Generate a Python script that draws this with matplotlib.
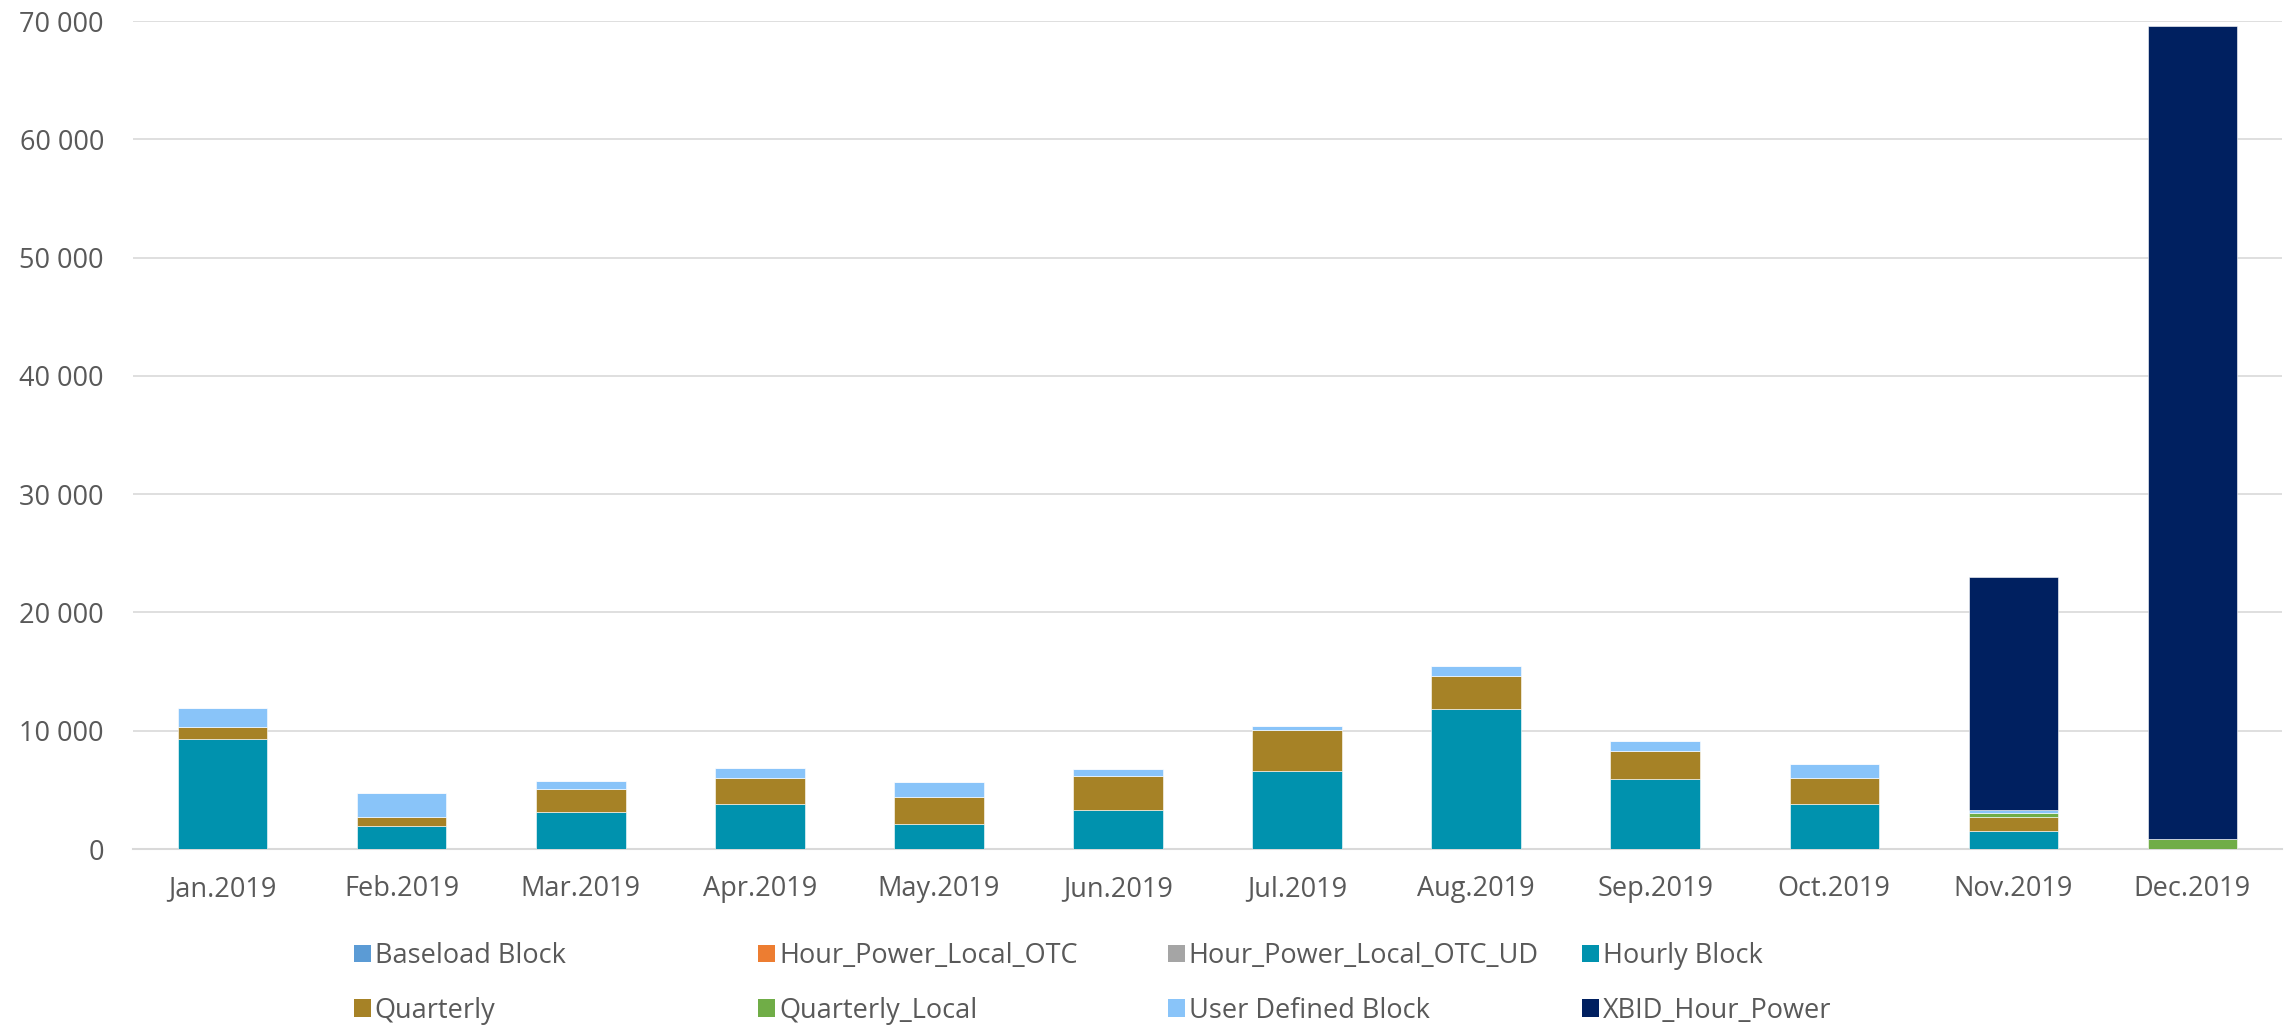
import matplotlib.pyplot as plt
import numpy as np
from matplotlib.ticker import FuncFormatter
from matplotlib.patches import Patch

plt.rcParams['font.family'] = ['Open Sans', 'DejaVu Sans']

months = ['Jan.2019', 'Feb.2019', 'Mar.2019', 'Apr.2019', 'May.2019', 'Jun.2019',
          'Jul.2019', 'Aug.2019', 'Sep.2019', 'Oct.2019', 'Nov.2019', 'Dec.2019']

# values (MWh)
baseload_block = [0, 0, 0, 0, 0, 0, 0, 0, 0, 0, 0, 0]
hour_power_local_otc = [0, 0, 0, 0, 0, 0, 0, 0, 0, 0, 0, 0]
hour_power_local_otc_ud = [0, 0, 0, 0, 0, 0, 0, 0, 0, 0, 0, 0]
hourly_block = [9300, 1910, 3170, 3790, 2080, 3340, 6630, 11800, 5900, 3790, 1540, 0]
quarterly = [1010, 810, 1910, 2220, 2330, 2840, 3430, 2830, 2390, 2250, 1180, 0]
quarterly_local = [0, 0, 0, 0, 0, 0, 0, 0, 0, 0, 290, 870]
user_defined_block = [1600, 2030, 680, 820, 1240, 560, 360, 880, 840, 1180, 300, 0]
xbid_hour_power = [0, 0, 0, 0, 0, 0, 0, 0, 0, 0, 19690, 68700]

series = [
    ('Baseload Block', baseload_block, '#5B9BD5'),
    ('Hour_Power_Local_OTC', hour_power_local_otc, '#ED7D31'),
    ('Hour_Power_Local_OTC_UD', hour_power_local_otc_ud, '#A5A5A5'),
    ('Hourly Block', hourly_block, '#0092AE'),
    ('Quarterly', quarterly, '#A68226'),
    ('Quarterly_Local', quarterly_local, '#70AD47'),
    ('User Defined Block', user_defined_block, '#89C4F9'),
    ('XBID_Hour_Power', xbid_hour_power, '#002060'),
]

fig = plt.figure(figsize=(22.87, 10.25), dpi=100)
ax = fig.add_axes([0.0582, 0.1717, 0.9396, 0.8078])

x = np.arange(len(months))
bottom = np.zeros(len(months))
for name, vals, col in series:
    vals = np.array(vals, dtype=float)
    ax.bar(x, vals, 0.5, bottom=bottom, color=col, edgecolor='white', linewidth=0.4, zorder=3)
    bottom += vals

ax.set_xlim(-0.5, len(months) - 0.5)
ax.set_ylim(0, 70000)
ax.set_yticks(np.arange(0, 70001, 10000))
ax.yaxis.set_major_formatter(FuncFormatter(lambda v, p: '{:,.0f}'.format(v).replace(',', ' ')))
ax.set_xticks(x)
ax.set_xticklabels(months)
ax.grid(axis='y', color='#D9D9D9', linewidth=1.2, zorder=0)
for s in ['top', 'right', 'left']:
    ax.spines[s].set_visible(False)
ax.spines['bottom'].set_color('#D9D9D9')
ax.spines['bottom'].set_linewidth(1.5)
ax.tick_params(axis='both', length=0, labelsize=19.5, colors='#595959')
ax.tick_params(axis='x', pad=19)
ax.tick_params(axis='y', pad=21)

# legend: 4 equal-width columns, row-major
handles = [Patch(facecolor=c, edgecolor='none', label=n) for n, v, c in series]
col_x = [0.1546, 0.3316, 0.5106, 0.6916]
for i in range(4):
    leg = fig.legend(handles=[handles[i], handles[i + 4]], loc='upper left',
                     bbox_to_anchor=(col_x[i], 0.081), frameon=False, fontsize=19.5,
                     handlelength=0.63, handleheight=0.63, handletextpad=0.15,
                     labelspacing=0.98, borderpad=0, borderaxespad=0)
    for t in leg.get_texts():
        t.set_color('#595959')

plt.savefig('out.png', dpi=100)
